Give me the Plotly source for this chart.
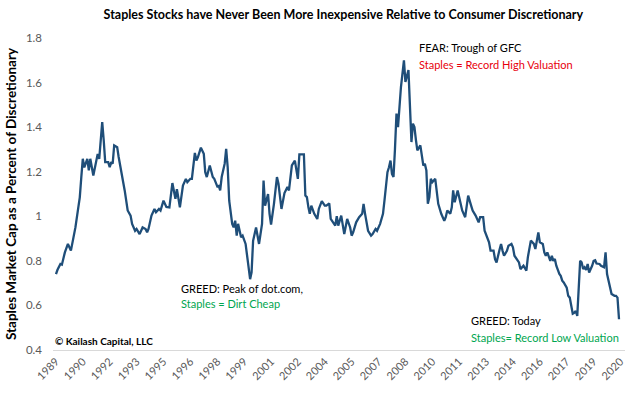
import plotly.graph_objects as go
import pandas as pd

# Monthly observations (approximate readings from the reference chart)
dates = [
    "1989-01","1989-02","1989-04","1989-05","1989-07","1989-09","1989-11","1990-01","1990-02","1990-04",
    "1990-05","1990-06","1990-07","1990-08","1990-10","1990-11","1990-12","1991-02","1991-03","1991-05",
    "1991-06","1991-07","1991-08","1991-09","1991-10","1991-12","1992-01","1992-02","1992-03","1992-04",
    "1992-06","1992-07","1992-09","1992-11","1993-01","1993-03","1993-04","1993-06","1993-07","1993-09",
    "1993-11","1994-01","1994-02","1994-03","1994-05","1994-07","1994-08","1994-10","1994-11","1995-01",
    "1995-03","1995-05","1995-07","1995-09","1995-10","1995-12","1996-02","1996-04","1996-05","1996-07",
    "1996-08","1996-10","1996-11","1996-12","1997-02","1997-04","1997-05","1997-06","1997-08","1997-10",
    "1997-11","1998-01","1998-02","1998-03","1998-04","1998-06","1998-07","1998-08","1998-09","1998-10",
    "1998-11","1998-12","1999-01","1999-02","1999-03","1999-05","1999-06","1999-08","1999-09","1999-10",
    "1999-11","1999-12","2000-01","2000-03","2000-04","2000-05","2000-07","2000-08","2000-09","2000-11",
    "2000-12","2001-01","2001-03","2001-05","2001-06","2001-08","2001-10","2001-12","2002-01","2002-02",
    "2002-03","2002-05","2002-06","2002-07","2002-08","2002-09","2002-11","2002-12","2003-01","2003-02",
    "2003-03","2003-04","2003-06","2003-08","2003-09","2003-11","2004-01","2004-02","2004-04","2004-05",
    "2004-07","2004-08","2004-09","2004-10","2004-12","2005-01","2005-02","2005-04","2005-06","2005-07",
    "2005-08","2005-10","2005-12","2006-02","2006-03","2006-04","2006-06","2006-08","2006-09","2006-11",
    "2006-12","2007-02","2007-04","2007-05","2007-07","2007-08","2007-09","2007-10","2007-11","2007-12",
    "2008-01","2008-02","2008-04","2008-06","2008-07","2008-09","2008-10","2008-11","2008-12","2009-01",
    "2009-02","2009-03","2009-05","2009-06","2009-07","2009-08","2009-09","2009-10","2009-11","2009-12",
    "2010-01","2010-03","2010-04","2010-05","2010-07","2010-09","2010-10","2010-11","2011-01","2011-02",
    "2011-03","2011-04","2011-06","2011-08","2011-09","2011-11","2011-12","2012-01","2012-03","2012-04",
    "2012-06","2012-08","2012-09","2012-11","2012-12","2013-02","2013-03","2013-04","2013-06","2013-07",
    "2013-08","2013-10","2013-11","2013-12","2014-01","2014-03","2014-04","2014-06","2014-07","2014-08",
    "2014-10","2014-11","2014-12","2015-02","2015-04","2015-05","2015-07","2015-09","2015-10","2015-11",
    "2015-12","2016-01","2016-03","2016-04","2016-05","2016-06","2016-08","2016-09","2016-10","2016-11",
    "2016-12","2017-02","2017-03","2017-04","2017-05","2017-07","2017-08","2017-09","2017-10","2017-11",
    "2017-12","2018-01","2018-02","2018-03","2018-04","2018-05","2018-06","2018-07","2018-08","2018-09",
    "2018-10","2018-12","2019-01","2019-02","2019-03","2019-05","2019-06","2019-08","2019-09","2019-10",
    "2019-11","2019-12","2020-01","2020-03","2020-04","2020-05","2020-06",
]
ratio = [
    0.74,0.76,0.786,0.783,0.838,0.876,0.846,0.913,0.95,1.04,
    1.085,1.176,1.258,1.22,1.258,1.206,1.258,1.183,1.22,1.28,
    1.258,1.326,1.423,1.34,1.243,1.243,1.22,1.243,1.236,1.318,
    1.31,1.266,1.198,1.116,1.026,1.003,0.966,0.935,0.943,0.92,
    0.95,0.943,0.928,0.943,1.003,1.033,1.018,1.033,1.026,1.07,
    1.042,1.04,1.149,1.078,1.122,1.04,1.138,1.168,1.153,1.168,
    1.168,1.284,1.25,1.265,1.308,1.28,1.198,1.176,1.228,1.176,
    1.168,1.134,1.136,1.116,1.176,1.236,1.303,1.22,1.07,1.026,
    0.966,0.95,0.98,0.913,0.966,0.906,0.913,0.876,0.816,0.763,
    0.718,0.748,0.89,0.95,0.913,0.876,0.966,1.16,1.048,1.1,
    1.011,0.963,1.056,1.176,1.146,1.033,1.104,1.131,1.116,1.176,
    1.228,1.25,1.213,1.168,1.278,1.278,1.278,1.093,1.086,1.04,
    1.011,1.048,1.011,0.988,1.033,1.068,1.048,1.048,1.058,0.988,
    0.966,0.958,1.0,0.958,1.003,0.966,0.92,0.988,0.95,0.913,
    0.928,0.973,0.996,1.011,1.056,1.011,0.935,0.913,0.92,0.943,
    0.935,0.966,1.011,1.07,1.198,1.22,1.25,1.19,1.176,1.3,
    1.461,1.4,1.58,1.7,1.603,1.656,1.49,1.333,1.416,1.4,
    1.341,1.296,1.318,1.281,1.228,1.236,1.206,1.056,1.086,1.168,
    1.153,1.168,1.1,1.056,1.011,0.98,0.996,1.026,1.011,1.04,
    1.116,1.063,1.116,1.056,1.026,0.996,1.04,1.093,1.048,1.026,
    1.003,0.973,0.996,0.996,0.935,0.898,0.883,0.846,0.846,0.808,
    0.793,0.85,0.876,0.846,0.823,0.845,0.868,0.876,0.861,0.823,
    0.8,0.793,0.763,0.778,0.756,0.816,0.891,0.876,0.853,0.898,
    0.928,0.883,0.876,0.838,0.823,0.838,0.8,0.823,0.8,0.808,
    0.778,0.741,0.733,0.711,0.703,0.68,0.643,0.635,0.605,0.563,
    0.567,0.575,0.553,0.68,0.8,0.793,0.763,0.771,0.759,0.786,
    0.748,0.778,0.8,0.803,0.788,0.786,0.778,0.771,0.838,0.741,
    0.711,0.68,0.651,0.643,0.643,0.635,0.538,
]

title_text = "Staples Stocks have Never Been More Inexpensive Relative to Consumer Discretionary"
y_title = "Staples Market Cap as a Percent of Discretionary"
y_ticks = [0.4, 0.6, 0.8, 1.0, 1.2, 1.4, 1.6, 1.8]
y_ticktext = ["0.4", "0.6", "0.8", "1", "1.2", "1.4", "1.6", "1.8"]

FONT = "Lato"
LINE_COLOR = "#1F4E79"

df = pd.DataFrame({"date": pd.to_datetime(dates), "ratio": ratio})

fig = go.Figure()
fig.add_trace(go.Scatter(
    x=df["date"], y=df["ratio"], mode="lines",
    line=dict(color=LINE_COLOR, width=2.3),
    hoverinfo="skip", showlegend=False,
))

fig.update_layout(
    width=643, height=394,
    margin=dict(l=53, r=18, t=38, b=44),
    paper_bgcolor="white", plot_bgcolor="white",
    font=dict(family=FONT, size=11, color="#595959"),
    title=dict(
        text="<b>" + title_text + "</b>",
        x=0.534, xanchor="center", y=0.964, yanchor="middle",
        font=dict(family=FONT, size=12.5, color="#000000"),
    ),
    showlegend=False,
)

fig.update_xaxes(
    type="date",
    range=["1988-11-01", "2020-10-01"],
    tick0="1989-01-01", dtick="M18", tickformat="%Y",
    tickangle=-45, automargin=False,
    showgrid=False, zeroline=False,
    showline=True, linecolor="#D9D9D9", linewidth=1,
    ticks="", tickfont=dict(family=FONT, size=11, color="#595959"),
)
fig.update_yaxes(
    range=[0.4, 1.8], automargin=False,
    tickvals=y_ticks, ticktext=y_ticktext,
    showgrid=False, zeroline=False, showline=False,
    ticks="", ticklabelstandoff=10,
    tickfont=dict(family=FONT, size=11.5, color="#595959"),
    title=dict(text="<b>" + y_title + "</b>", standoff=6,
               font=dict(family=FONT, size=13.5, color="#000000")),
)

annos = [
    ("FEAR: Trough of GFC", "#000000", 0.637, 0.968),
    ("Staples = Record High Valuation", "#E8000B", 0.637, 0.916),
    ("GREED: Peak of dot.com,", "#000000", 0.221, 0.196),
    ("Staples = Dirt Cheap", "#00A650", 0.221, 0.148),
    ("GREED: Today", "#000000", 0.728, 0.093),
    ("Staples= Record Low Valuation", "#00A650", 0.728, 0.040),
]
for text, color, ax, ay in annos:
    fig.add_annotation(
        text=text, xref="paper", yref="paper", x=ax, y=ay,
        xanchor="left", yanchor="middle", showarrow=False,
        font=dict(family=FONT, size=11, color=color),
    )

fig.add_annotation(
    text="<b>© Kailash Capital, LLC</b>", xref="paper", yref="paper",
    x=0.0, y=0.029, xanchor="left", yanchor="middle", showarrow=False,
    font=dict(family=FONT, size=10, color="#000000"),
)

# Remove the default page margin so the figure fills the window from its corner.
fig.write_html(
    "out.html",
    config={"displayModeBar": False},
    post_script="document.body.style.margin='0';",
)
